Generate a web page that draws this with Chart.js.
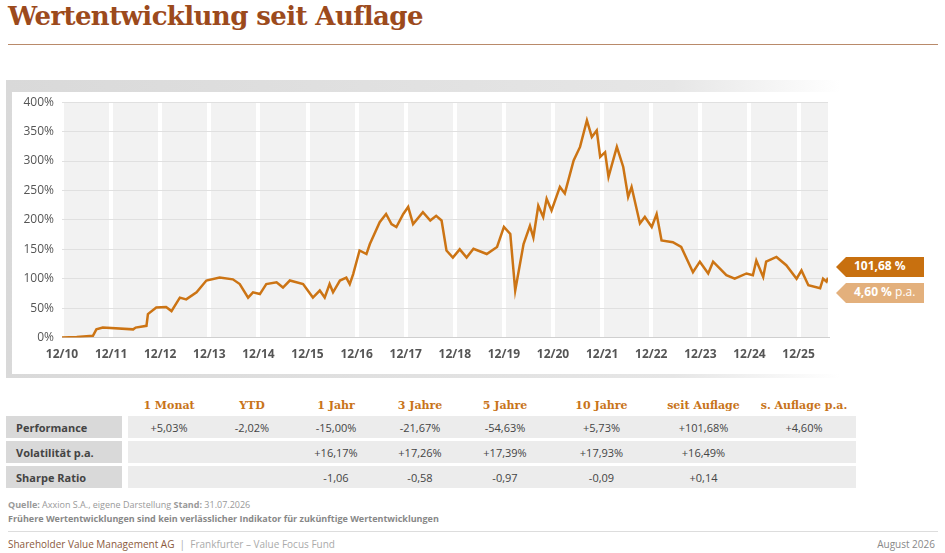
<!DOCTYPE html>
<html><head><meta charset="utf-8">
<script src="https://cdn.jsdelivr.net/npm/chart.js@4"></script>
<style>
body{margin:0;width:945px;height:553px;background:#fff;font-family:Calibri,Carlito,"Open Sans",sans-serif;position:relative;overflow:hidden}
.title{position:absolute;left:8px;top:1px;font:bold 26px "DejaVu Serif",serif;color:#9c4a1c;letter-spacing:-0.6px}
.rule{position:absolute;left:8px;top:44px;width:930px;height:1px;background:#b98a6a}
.panel{position:absolute;left:6px;top:80px;width:834px;height:298px;background:linear-gradient(90deg,#d9d9d9,#e6e6e6 80%,#fff)}
.inner{position:absolute;left:12px;top:92px;width:828px;height:282px;background:#fff}
#wrap{position:absolute;left:12px;top:87px;width:830px;height:285px}
.tag{position:absolute;left:836px;height:20px;line-height:20px;color:#fff;font:bold 12px "Open Sans",sans-serif;padding-left:18px;width:70px;clip-path:polygon(10px 0,100% 0,100% 100%,10px 100%,0 50%)}
table{position:absolute;left:6px;top:394px;border-collapse:separate;border-spacing:0 3px;font-size:11px;font-family:"Open Sans",sans-serif;color:#444;table-layout:fixed;width:850px}
th{font:bold 11px "DejaVu Serif",serif;color:#c8741a;height:14px;text-align:center}
td{height:22px;text-align:center;background:#ececec;padding:0}
td.l{background:#d9d9d9;text-align:left;padding-left:10px;font-weight:bold;border-right:6px solid #fff}
.src{position:absolute;left:8px;top:498px;font:9px "Open Sans",sans-serif;color:#999;line-height:14px}
.src b{font-weight:bold}
.rule2{position:absolute;left:8px;top:531px;width:930px;height:1px;background:#ddd}
.foot{position:absolute;left:8px;top:537px;font:10px "Open Sans",sans-serif;color:#8b5a3c}
.foot span{color:#aaa}
.date{position:absolute;right:10px;top:537px;font:10px "Open Sans",sans-serif;color:#888}
</style></head><body>
<div class="title">Wertentwicklung seit Auflage</div>
<div class="rule"></div>
<div class="panel"></div><div class="inner"></div>
<div id="wrap"><canvas id="c" width="830" height="285"></canvas></div>
<div class="tag" style="top:257px;background:#c8700f">101,68 %</div>
<div class="tag" style="top:283px;background:#e3b07c">4,60 % <span style="font-weight:normal">p.a.</span></div>
<table id="tbl"></table>
<div class="src"><b>Quelle:</b> Axxion S.A., eigene Darstellung <b>Stand:</b> 31.07.2026<br><b style="color:#888">Frühere Wertentwicklungen sind kein verlässlicher Indikator für zukünftige Wertentwicklungen</b></div>
<div class="rule2"></div>
<div class="foot">Shareholder Value Management AG <span>&nbsp;|&nbsp; Frankfurter – Value Focus Fund</span></div>
<div class="date">August 2026</div>
<script>
// years since 12/2010
const years = [0,0.3,0.63,0.7,0.83,1.45,1.5,1.72,1.75,1.92,2.12,2.23,2.4,2.53,2.74,2.94,3.21,3.48,3.62,3.79,3.89,4.03,4.16,4.37,4.5,4.64,4.91,5.11,5.25,5.35,5.45,5.52,5.66,5.79,5.86,5.93,6.06,6.2,6.27,6.47,6.6,6.71,6.81,6.95,7.05,7.15,7.35,7.5,7.62,7.73,7.83,7.96,8.1,8.24,8.38,8.65,8.86,9.0,9.13,9.23,9.4,9.53,9.6,9.7,9.8,9.87,9.97,10.14,10.24,10.42,10.55,10.69,10.79,10.89,10.96,11.06,11.13,11.3,11.43,11.53,11.6,11.77,11.87,12.01,12.11,12.21,12.44,12.61,12.85,12.99,13.16,13.26,13.53,13.7,13.94,14.07,14.14,14.28,14.34,14.55,14.75,14.96,15.06,15.2,15.44,15.5,15.57,15.6];
const perf  = [0,1,3,14,17,14,17,20,40,51,52,45,68,65,77,97,102,99,91,68,77,74,91,94,85,97,91,68,80,68,91,77,97,102,91,108,148,142,159,196,210,193,188,210,222,193,213,199,207,199,148,136,150,136,151,142,154,188,176,80,159,190,170,224,205,236,216,256,245,301,324,369,341,352,307,315,273,324,290,239,256,194,205,188,210,165,162,154,111,129,109,129,106,100,109,106,131,103,129,137,123,100,114,89,84,100,95,101.68];
const tickLabels = ['12/10','12/11','12/12','12/13','12/14','12/15','12/16','12/17','12/18','12/19','12/20','12/21','12/22','12/23','12/24','12/25'];

const columns = ['1 Monat','YTD','1 Jahr','3 Jahre','5 Jahre','10 Jahre','seit Auflage','s. Auflage p.a.'];
const rowNames = ['Performance','Volatilität p.a.','Sharpe Ratio'];
const rowPerformance = ['+5,03%','-2,02%','-15,00%','-21,67%','-54,63%','+5,73%','+101,68%','+4,60%'];
const rowVolatility  = ['','','+16,17%','+17,26%','+17,39%','+17,93%','+16,49%',''];
const rowSharpe      = ['','','-1,06','-0,58','-0,97','-0,09','+0,14',''];

const colW = [122,82,84,84,84,86,107,97,104];
let html = '<colgroup>' + colW.map(w=>'<col style="width:'+w+'px">').join('') + '</colgroup>';
html += '<tr><th></th>' + columns.map(c=>'<th>'+c+'</th>').join('') + '</tr>';
[rowPerformance,rowVolatility,rowSharpe].forEach((r,i)=>{
  html += '<tr><td class="l">'+rowNames[i]+'</td>' + r.map(v=>'<td>'+v+'</td>').join('') + '</tr>';
});
document.getElementById('tbl').innerHTML = html;

const bgPlugin = {
  id: 'bg',
  beforeDraw(chart) {
    const a = chart.chartArea, ctx = chart.ctx;
    ctx.save(); ctx.fillStyle = '#f2f2f2';
    ctx.fillRect(a.left, a.top, a.right - a.left, a.bottom - a.top);
    ctx.restore();
  }
};

new Chart(document.getElementById('c'), {
  type: 'line',
  plugins: [bgPlugin],
  data: { datasets: [{
    data: years.map((t,i)=>({x:t,y:perf[i]})),
    borderColor: '#cc7414', borderWidth: 2.5, pointRadius: 0, tension: 0
  }]},
  options: {
    responsive: false, animation: false,
    layout: { padding: { top: 1, right: 14 } },
    plugins: { legend: { display: false }, tooltip: { enabled: false } },
    scales: {
      x: {
        type: 'linear', min: 0, max: 15.6,
        afterBuildTicks(s) { s.ticks = tickLabels.map((_,i)=>({value:i})); },
        ticks: { callback: v => tickLabels[v], color: '#555', font: { size: 12, weight: 'bold', family: 'Open Sans' }, maxRotation: 0, autoSkip: false, padding: 10 },
        grid: { color: '#ffffff', lineWidth: 4, drawTicks: false },
        border: { display: true, color: '#cfcfcf' }
      },
      y: {
        min: 0, max: 400,
        afterFit(s) { s.width = 50; },
        ticks: { stepSize: 50, callback: v => v + '%', color: '#555', font: { size: 12, family: 'Open Sans' }, padding: 8 },
        grid: { color: '#e0e0e0', drawTicks: false },
        border: { display: false }
      }
    }
  }
});
</script>
</body></html>
